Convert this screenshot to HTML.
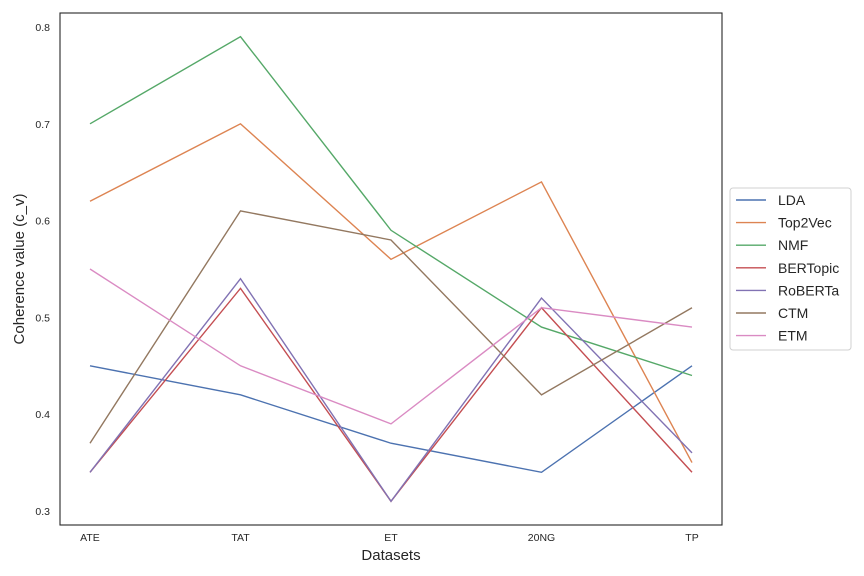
<!DOCTYPE html>
<html><head><meta charset="utf-8"><style>
html,body{margin:0;padding:0;background:#fff;}
svg{display:block;font-family:"Liberation Sans","DejaVu Sans",sans-serif;}
</style></head><body>
<svg id="chart" width="864" height="576">
<rect x="60" y="13" width="662" height="512" fill="#fff" stroke="#262626" stroke-width="1.1"/>
<g id="yticks"></g>
<g id="xticks"></g>
<g id="lines"></g>
<text x="391" y="560" text-anchor="middle" font-size="15" fill="#262626">Datasets</text>
<text transform="translate(24,269) rotate(-90)" text-anchor="middle" font-size="15" fill="#262626">Coherence value (c_v)</text>
<g id="legend">
<rect x="730" y="188" width="121" height="162" rx="3" fill="#fff" stroke="#d0d0d0"/>
</g>
</svg>
<script>
const categories = ["ATE","TAT","ET","20NG","TP"];
const seriesNames = ["LDA","Top2Vec","NMF","BERTopic","RoBERTa","CTM","ETM"];
const LDA = [0.45,0.42,0.37,0.34,0.45];
const Top2Vec = [0.62,0.70,0.56,0.64,0.35];
const NMF = [0.70,0.79,0.59,0.49,0.44];
const BERTopic = [0.34,0.53,0.31,0.51,0.34];
const RoBERTa = [0.34,0.54,0.31,0.52,0.36];
const CTM = [0.37,0.61,0.58,0.42,0.51];
const ETM = [0.55,0.45,0.39,0.51,0.49];
const yTicks = [0.3,0.4,0.5,0.6,0.7,0.8];
const seriesValues = [LDA,Top2Vec,NMF,BERTopic,RoBERTa,CTM,ETM];
const colors = ["#4c72b0","#dd8452","#55a868","#c44e52","#8172b3","#937860","#da8bc3"];
const NS="http://www.w3.org/2000/svg";
function xs(i){return 90 + i*(692-90)/(categories.length-1);}
function ys(v){return 511 - (v-0.3)*968;}
function mk(tag,attrs,parent){const e=document.createElementNS(NS,tag);for(const k in attrs)e.setAttribute(k,attrs[k]);parent.appendChild(e);return e;}
const yg=document.getElementById('yticks');
yTicks.forEach(t=>{
  const tx=mk('text',{x:50,y:ys(t)+4,'text-anchor':'end','font-size':'10.5',fill:'#262626'},yg);
  tx.textContent=t.toFixed(1);
  
  
});
const xg=document.getElementById('xticks');
categories.forEach((c,i)=>{
  const tx=mk('text',{x:xs(i),y:541,'text-anchor':'middle','font-size':'10.5',fill:'#262626'},xg);
  tx.textContent=c;
  
  
});
const lg=document.getElementById('lines');
seriesValues.forEach((vals,si)=>{
  const pts=vals.map((v,i)=>xs(i)+','+ys(v)).join(' ');
  const pl=mk('polyline',{points:pts,fill:'none',stroke:colors[si],'stroke-width':'1.4'},lg);
  
  
});
const leg=document.getElementById('legend');
seriesNames.forEach((n,i)=>{
  const y=200+i*22.6;
  const ln=mk('line',{x1:736,x2:766,y1:y,y2:y,stroke:colors[i],'stroke-width':'1.4'},leg);
  
  
  const tx=mk('text',{x:778,y:y+5,'font-size':'14',fill:'#262626'},leg);
  tx.textContent=n;
  
  
});
</script>
</body></html>
